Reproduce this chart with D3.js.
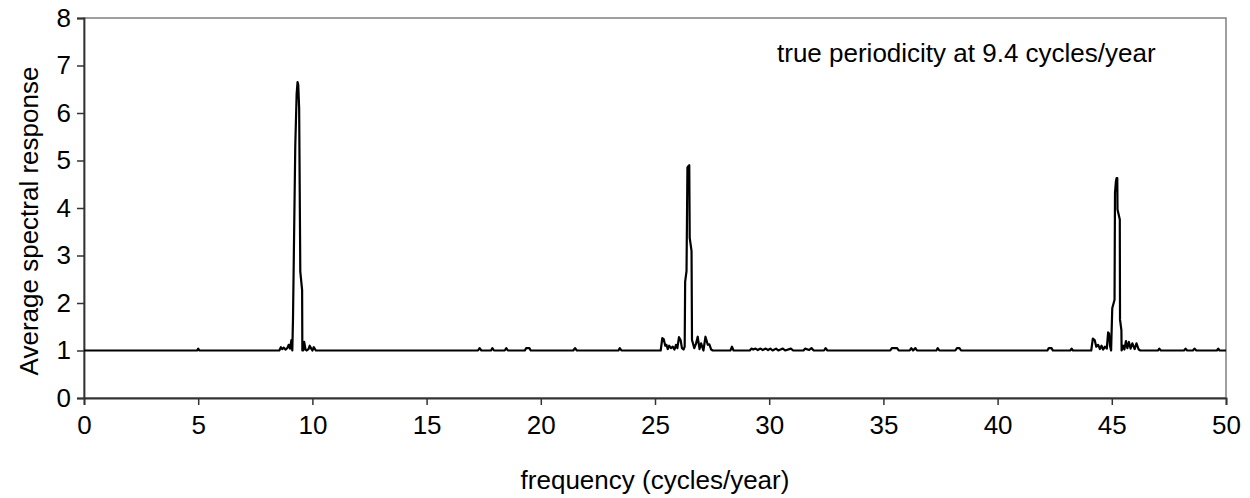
<!DOCTYPE html>
<html><head><meta charset="utf-8">
<script src="https://cdn.jsdelivr.net/npm/d3@7"></script>
<style>
html,body{margin:0;padding:0;background:#fff;}
text{font-family:"Liberation Sans",Arial,sans-serif;fill:#000;}
</style></head>
<body><svg id="c" width="1250" height="498"></svg>
<script>
// ---- data ----
const xTicks = [0,5,10,15,20,25,30,35,40,45,50];
const yTicks = [0,1,2,3,4,5,6,7,8];
const xTitle = "frequency (cycles/year)";
const yTitle = "Average spectral response";
const note = "true periodicity at 9.4 cycles/year";

const freq = [0,4.95,5.0,5.05,8.55,8.62,8.68,8.75,8.82,8.9,8.96,9.02,9.08,9.12,9.15,9.25,9.31,9.35,9.38,9.42,9.47,9.55,9.56,9.6,9.64,9.7,9.75,9.83,9.88,9.95,10.0,10.06,10.15,
17.25,17.32,17.4,17.82,17.88,17.95,18.42,18.49,18.56,19.3,19.36,19.5,19.56,21.42,21.5,21.58,23.4,23.46,23.53,
25.25,25.32,25.38,25.45,25.5,25.56,25.62,25.7,25.78,25.85,25.92,25.98,26.05,26.12,26.18,26.25,26.3,26.32,26.38,26.42,26.46,26.5,26.52,26.6,26.62,26.72,26.8,26.87,26.95,27.02,27.12,27.21,27.31,27.38,27.46,27.53,
28.3,28.37,28.44,29.15,29.22,29.3,29.4,29.5,29.62,29.72,29.85,29.95,30.05,30.15,30.3,30.4,30.6,30.7,30.95,31.05,31.5,31.57,31.75,31.85,31.95,32.4,32.47,32.55,
35.3,35.37,35.6,35.67,36.15,36.22,36.3,36.4,36.47,37.32,37.38,37.45,38.15,38.22,38.33,38.4,42.18,42.24,42.36,42.42,43.18,43.24,43.3,
44.1,44.17,44.25,44.32,44.4,44.48,44.55,44.62,44.7,44.78,44.84,44.88,44.92,44.97,45.02,45.12,45.14,45.18,45.21,45.24,45.25,45.35,45.36,45.42,45.43,45.5,45.55,45.62,45.68,45.75,45.82,45.9,46.0,46.08,46.18,46.25,
47.02,47.08,47.15,48.16,48.23,48.3,48.55,48.62,48.7,49.6,49.66,49.72,50];
const response = [1,1,1.04,1,1,1.07,1.03,1.06,1.02,1.05,1.12,1.04,1.22,1.0,1.65,5.3,6.4,6.65,6.6,6.1,2.66,2.27,1.0,1.0,1.18,1.02,1.0,1.03,1.1,1.04,1.0,1.07,1.0,
1,1.05,1,1,1.05,1,1,1.05,1,1,1.05,1.05,1,1,1.05,1,1,1.05,1,
1,1.26,1.24,1.1,1.12,1.03,1.1,1.05,1.08,1.02,1.12,1.05,1.28,1.22,1.05,1.02,1.08,2.45,2.67,4.85,4.88,4.9,3.37,3.09,1.22,1.05,1.15,1.29,1.03,1.15,1.0,1.29,1.12,1.13,1.02,1.0,
1.0,1.08,1.0,1,1.04,1.02,1.04,1.01,1.04,1.01,1.04,1.01,1.04,1.0,1.04,1.0,1.04,1.0,1.04,1.0,1.0,1.04,1.01,1.05,1.0,1.0,1.05,1.0,
1,1.05,1.05,1,1,1.05,1.0,1.05,1,1,1.05,1,1,1.05,1.05,1,1,1.05,1.05,1,1,1.04,1,
1.0,1.25,1.22,1.08,1.12,1.03,1.1,1.02,1.08,1.04,1.38,1.36,1.1,1.0,1.89,2.07,4.32,4.56,4.63,4.63,3.97,3.76,1.65,1.43,1.0,1.1,1.02,1.2,1.05,1.18,1.04,1.15,1.03,1.15,1.02,1.0,
1,1.04,1,1,1.04,1,1,1.04,1,1,1.04,1,1];

// ---- chart ----
const svg = d3.select("#c");
const m = {left:84, right:1226, top:18, bottom:398};
const x = d3.scaleLinear().domain([0,50]).range([m.left,m.right]);
const y = d3.scaleLinear().domain([0,8]).range([m.bottom,m.top]);
const FS = 26;

// plot border (top/right gray)
svg.append("rect").attr("x",m.left).attr("y",m.top)
  .attr("width",m.right-m.left).attr("height",m.bottom-m.top)
  .attr("fill","none").attr("stroke","#808080").attr("stroke-width",1.5);

const gx = svg.append("g").attr("transform",`translate(0,${m.bottom})`)
  .call(d3.axisBottom(x).tickValues(xTicks).tickSize(7).tickPadding(11).tickFormat(d3.format("d")));
const gy = svg.append("g").attr("transform",`translate(${m.left},0)`)
  .call(d3.axisLeft(y).tickValues(yTicks).tickSize(7).tickPadding(6).tickFormat(d3.format("d")));
[gx,gy].forEach(g=>{
  g.selectAll("path").attr("stroke","#333").attr("stroke-width",1.8);
  g.selectAll("line").attr("stroke","#333").attr("stroke-width",1.5);
  g.selectAll("text").style("font-size",FS+"px").attr("fill","#000");
});

const pts = freq.map((f,i)=>[f,response[i]]);
svg.append("path").datum(pts)
  .attr("fill","none").attr("stroke","#000").attr("stroke-width",2.2)
  .attr("stroke-linejoin","round")
  .attr("d",d3.line().x(d=>x(d[0])).y(d=>y(d[1])));

svg.append("text").attr("x",(m.left+m.right)/2).attr("y",489)
  .attr("text-anchor","middle").style("font-size",FS+"px").text(xTitle);
svg.append("text").attr("transform",`translate(38,${(m.top+m.bottom)/2+13}) rotate(-90)`)
  .attr("text-anchor","middle").style("font-size",FS+"px").text(yTitle);
svg.append("text").attr("x",777).attr("y",62).style("font-size",FS+"px").text(note);
</script></body></html>
